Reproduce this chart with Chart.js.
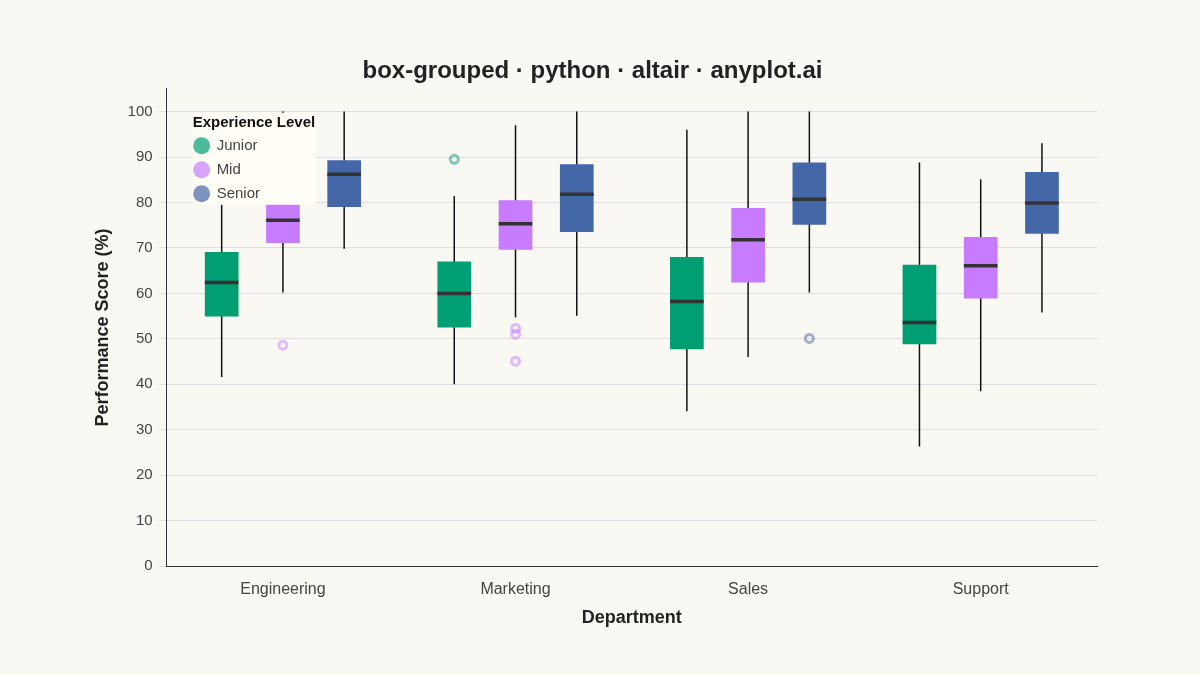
<!DOCTYPE html>
<html><head><meta charset="utf-8">
<script src="https://cdn.jsdelivr.net/npm/chart.js@4"></script>
<style>html,body{margin:0;background:#FAF8F2}#w{width:1200px;height:675px}</style>
</head><body><div id="w"><canvas id="c"></canvas></div>
<script>
const departments = ["Engineering","Marketing","Sales","Support"];
const levels = ["Junior","Mid","Senior"];
const colors = ["#009E73","#C77CFF","#4467A8"];
// per level: arrays over departments
const q1 = [[54.9,52.5,47.7,48.8],[71.1,69.6,62.4,58.9],[79.0,73.5,75.1,73.1]];
const q3 = [[69.1,67.0,68.0,66.3],[81.0,80.5,78.8,72.4],[89.3,88.4,88.8,86.7]];
const medians = [[62.4,60.0,58.2,53.6],[76.1,75.3,71.8,66.1],[86.2,81.8,80.7,79.9]];
const whiskLo = [[41.6,40.0,34.1,26.3],[60.2,54.7,46.0,38.5],[69.8,55.1,60.2,55.8]];
const whiskHi = [[80.0,81.4,96.0,88.8],[100,97.0,100,85.1],[100,100,100,93.0]];
const outliers = [[[],[89.5],[],[]],[[48.6],[52.3,51.0,45.1],[],[]],[[],[],[50.1],[]]];

const datasets = levels.map((l,i)=>({
  label:l, backgroundColor:colors[i],
  data: departments.map((d,j)=>[q1[i][j],q3[i][j]]),
  barPercentage:0.55, categoryPercentage:0.79
}));

const boxPlugin = {
  id:'box',
  beforeDatasetsDraw(chart){
    const y=chart.scales.y, ctx=chart.ctx;
    ctx.save();
    levels.forEach((l,i)=>{
      chart.getDatasetMeta(i).data.forEach((bar,j)=>{
        ctx.strokeStyle='#111';ctx.lineWidth=1.5;
        ctx.beginPath();ctx.moveTo(bar.x,y.getPixelForValue(whiskLo[i][j]));ctx.lineTo(bar.x,y.getPixelForValue(whiskHi[i][j]));ctx.stroke();
      });
    });
    ctx.restore();
  },
  afterDatasetsDraw(chart){
    const y=chart.scales.y, ctx=chart.ctx;
    ctx.save();
    levels.forEach((l,i)=>{
      chart.getDatasetMeta(i).data.forEach((bar,j)=>{
        const w=bar.width;
        ctx.strokeStyle='#333';ctx.lineWidth=3.5;
        const ym=y.getPixelForValue(medians[i][j]);
        ctx.beginPath();ctx.moveTo(bar.x-w/2,ym);ctx.lineTo(bar.x+w/2,ym);ctx.stroke();
        outliers[i][j].forEach(v=>{
          ctx.globalAlpha=0.5;ctx.strokeStyle=colors[i];ctx.lineWidth=3;
          ctx.beginPath();ctx.arc(bar.x,y.getPixelForValue(v),4,0,Math.PI*2);ctx.stroke();
          ctx.globalAlpha=1;
        });
      });
    });
    // legend
    const a=chart.chartArea, lx=a.left+26, ly=a.top+24;
    ctx.fillStyle='#FFFDF5';ctx.fillRect(lx,ly,124,92);
    ctx.fillStyle='#111';ctx.font='bold 15px "Liberation Sans", Arial';ctx.textBaseline='middle';
    ctx.fillText('Experience Level',lx,ly+10);
    levels.forEach((l,i)=>{
      const cy=ly+33+i*24;
      ctx.globalAlpha=0.7;ctx.fillStyle=colors[i];
      ctx.beginPath();ctx.arc(lx+9,cy,8.5,0,Math.PI*2);ctx.fill();
      ctx.globalAlpha=1;ctx.fillStyle='#444';ctx.font='15px "Liberation Sans", Arial';
      ctx.fillText(l,lx+24,cy);
    });
    ctx.restore();
  }
};

Chart.defaults.font.family='"Liberation Sans", Arial, sans-serif';
new Chart(document.getElementById('c'),{
  type:'bar',
  data:{labels:departments,datasets},
  plugins:[boxPlugin,{id:'bg',beforeDraw(c){c.ctx.save();c.ctx.fillStyle='#FAF8F2';c.ctx.fillRect(0,0,c.width,c.height);c.ctx.restore();}}],
  options:{
    responsive:true,maintainAspectRatio:false,animation:false,
    layout:{padding:{left:88,right:103,top:27,bottom:42}},
    plugins:{legend:{display:false},tooltip:{enabled:false},
      title:{display:true,text:'box-grouped · python · altair · anyplot.ai',color:'#222',font:{size:24,weight:'bold'},padding:{top:30,bottom:3}}},
    scales:{
      x:{grid:{display:false},border:{color:'#333'},ticks:{color:'#444',font:{size:16},padding:6},
        title:{display:true,text:'Department',color:'#222',font:{size:18,weight:'bold'},padding:{top:2}}},
      y:{min:0,max:105,border:{color:'#333'},grid:{color:'#ddd'},
        afterBuildTicks(s){s.ticks=s.ticks.filter(t=>t.value<=100);},
        ticks:{stepSize:10,color:'#444',font:{size:15},padding:6},
        title:{display:true,text:'Performance Score (%)',color:'#222',font:{size:18,weight:'bold'},padding:{bottom:8}}}
    }
  }
});
</script></body></html>
